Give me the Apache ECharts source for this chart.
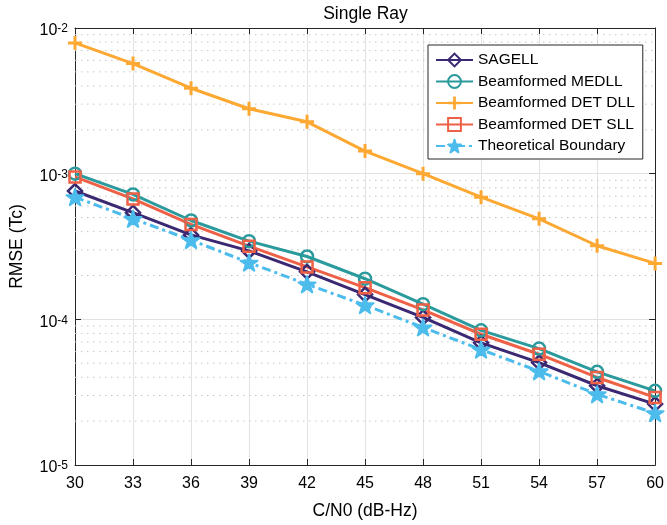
<!DOCTYPE html>
<html>
<head>
<meta charset="utf-8">
<script src="https://cdn.jsdelivr.net/npm/echarts@6/dist/echarts.min.js"></script>
<style>
  html, body { margin: 0; padding: 0; background: #fff; }
  #chart { width: 667px; height: 525px; }
</style>
</head>
<body>
<div id="chart"></div>
<script>
// C/N0 在 x 轴上的取值
const cn0 = [30, 33, 36, 39, 42, 45, 48, 51, 54, 57, 60];

// 各方法的 RMSE (Tc)
const sagell = [7.6e-4, 5.4e-4, 3.8e-4, 2.95e-4, 2.12e-4, 1.48e-4, 1.03e-4, 6.9e-5, 5.05e-5, 3.5e-5, 2.62e-5];
const medll = [1.0e-3, 7.2e-4, 4.77e-4, 3.44e-4, 2.7e-4, 1.9e-4, 1.27e-4, 8.4e-5, 6.3e-5, 4.36e-5, 3.23e-5];
const detDll = [7.9e-3, 5.7e-3, 3.86e-3, 2.79e-3, 2.27e-3, 1.43e-3, 1.0e-3, 6.9e-4, 4.9e-4, 3.2e-4, 2.42e-4];
const detSll = [9.5e-4, 6.71e-4, 4.48e-4, 3.18e-4, 2.29e-4, 1.65e-4, 1.16e-4, 7.9e-5, 5.76e-5, 3.99e-5, 2.91e-5];
const theory = [6.9e-4, 4.9e-4, 3.5e-4, 2.45e-4, 1.74e-4, 1.25e-4, 8.8e-5, 6.2e-5, 4.4e-5, 3.06e-5, 2.27e-5];

const seriesNames = ["SAGELL", "Beamformed MEDLL", "Beamformed DET DLL", "Beamformed DET SLL", "Theoretical Boundary"];

// 对数轴的次刻度（2..9 × 10^n）
const minorTicks = [
  2e-5, 3e-5, 4e-5, 5e-5, 6e-5, 7e-5, 8e-5, 9e-5,
  2e-4, 3e-4, 4e-4, 5e-4, 6e-4, 7e-4, 8e-4, 9e-4,
  2e-3, 3e-3, 4e-3, 5e-3, 6e-3, 7e-3, 8e-3, 9e-3
];

const FONT = "Liberation Sans";
const AXIS_COLOR = "#262626";

const starPath = "path://M50,0 L61.23,34.55 L97.55,34.55 L68.16,55.9 L79.39,90.45 L50,69.1 L20.61,90.45 L31.84,55.9 L2.45,34.55 L38.77,34.55 Z";
const plusPath = "path://M5.5,0H8.5V5.5H14V8.5H8.5V14H5.5V8.5H0V5.5H5.5Z";

function toPoints(values) {
  return cn0.map((c, i) => [c, values[i]]);
}

// mode: "hollow" 空心描边, "solid" 实心, "edge" 实心加同色描边
function lineSeries(name, values, color, symbol, size, mode, dash) {
  let itemStyle = { color, borderWidth: 0 };
  if (mode === "hollow") itemStyle = { color: "rgba(0,0,0,0)", borderColor: color, borderWidth: 2.5 };
  if (mode === "edge") itemStyle = { color, borderColor: color, borderWidth: 2, borderJoin: "round" };
  return {
    name,
    type: "line",
    z: 3,
    data: toPoints(values),
    symbol,
    symbolSize: size,
    symbolKeepAspect: true,
    showAllSymbol: true,
    lineStyle: { color, width: 3, type: dash || "solid" },
    itemStyle,
    emphasis: { disabled: true },
  };
}

const series = [
  lineSeries(seriesNames[0], sagell, "#3b2873", "diamond", 14, "hollow"),
  lineSeries(seriesNames[1], medll, "#2a9a9c", "circle", 12, "hollow"),
  lineSeries(seriesNames[2], detDll, "#fca832", plusPath, 14, "solid"),
  lineSeries(seriesNames[3], detSll, "#ef6146", "rect", 11, "hollow"),
  lineSeries(seriesNames[4], theory, "#4cbcec", starPath, 17, "edge", [9, 4, 3, 4]),
];

// 次网格线（点线），每条是横跨整个 x 范围的细线
minorTicks.forEach((v) => {
  series.push({
    type: "line",
    z: 1,
    silent: true,
    symbol: "none",
    data: [[cn0[0], v], [cn0[cn0.length - 1], v]],
    lineStyle: { color: "#c6c6c6", width: 1, type: [1.5, 4.5] },
    emphasis: { disabled: true },
    tooltip: { show: false },
  });
});

const expLabel = (v) => {
  const e = Math.round(Math.log10(v));
  return "{b|10}{s|" + e + "}";
};

const yBase = {
  type: "log",
  logBase: 10,
  min: 1e-5,
  max: 1e-2,
  gridIndex: 0,
};

const option = {
  animation: false,
  backgroundColor: "#fff",
  textStyle: { fontFamily: FONT, color: "#000" },
  title: {
    text: "Single Ray",
    left: 365.5,
    textAlign: "center",
    top: 5,
    padding: 0,
    textStyle: { fontFamily: FONT, fontSize: 17.5, fontWeight: "normal", color: "#000" },
  },
  grid: { left: 74, right: 10, top: 28, bottom: 59, containLabel: false },
  legend: {
    data: seriesNames,
    orient: "vertical",
    left: 428,
    top: 45,
    padding: [7, 8, 5, 7],
    itemWidth: 37,
    itemHeight: 16,
    itemGap: 5.5,
    backgroundColor: "#fff",
    borderColor: AXIS_COLOR,
    borderWidth: 1,
    borderRadius: 0,
    textStyle: { fontFamily: FONT, fontSize: 15.5, color: "#000" },
    selectedMode: false,
  },
  xAxis: [
    {
      type: "value",
      min: 30,
      max: 60,
      interval: 3,
      name: "C/N0 (dB-Hz)",
      nameLocation: "middle",
      nameGap: 37,
      nameTextStyle: { fontFamily: FONT, fontSize: 17.5, color: "#000" },
      axisLine: { show: true, onZero: false, lineStyle: { color: AXIS_COLOR, width: 1 } },
      axisTick: { inside: true, length: 6, lineStyle: { color: AXIS_COLOR } },
      axisLabel: { fontFamily: FONT, fontSize: 16, color: "#000", margin: 11 },
      splitLine: { show: true, lineStyle: { color: "#e2e2e2", width: 1 } },
    },
    {
      type: "value",
      position: "top",
      min: 30,
      max: 60,
      interval: 3,
      axisLine: { show: true, onZero: false, lineStyle: { color: AXIS_COLOR, width: 1 } },
      axisTick: { inside: true, length: 6, lineStyle: { color: AXIS_COLOR } },
      axisLabel: { show: false },
      splitLine: { show: false },
    },
  ],
  yAxis: [
    Object.assign({}, yBase, {
      position: "left",
      name: "RMSE (Tc)",
      nameLocation: "middle",
      nameGap: 49,
      nameTextStyle: { fontFamily: FONT, fontSize: 17.5, color: "#000" },
      axisLine: { show: true, onZero: false, lineStyle: { color: AXIS_COLOR, width: 1 } },
      axisTick: { inside: true, length: 6, lineStyle: { color: AXIS_COLOR } },
      axisLabel: {
        formatter: expLabel,
        margin: 7,
        padding: [6, 0, 0, 0],
        rich: {
          b: { fontFamily: FONT, fontSize: 16, color: "#000", lineHeight: 16, padding: [5, 0, 0, 0], verticalAlign: "bottom" },
          s: { fontFamily: FONT, fontSize: 12, color: "#000", lineHeight: 12, verticalAlign: "top" },
        },
      },
      splitLine: { show: true, lineStyle: { color: "#e2e2e2", width: 1 } },
    }),
    Object.assign({}, yBase, {
      position: "right",
      axisLine: { show: true, onZero: false, lineStyle: { color: AXIS_COLOR, width: 1 } },
      axisTick: { inside: true, length: 6, lineStyle: { color: AXIS_COLOR } },
      axisLabel: { show: false },
      splitLine: { show: false },
    }),
    Object.assign({}, yBase, {
      position: "left",
      axisLine: { show: false },
      axisTick: { inside: true, length: 3, customValues: minorTicks.map(Math.log10), lineStyle: { color: AXIS_COLOR } },
      axisLabel: { show: false },
      splitLine: { show: false },
    }),
    Object.assign({}, yBase, {
      position: "right",
      axisLine: { show: false },
      axisTick: { inside: true, length: 3, customValues: minorTicks.map(Math.log10), lineStyle: { color: AXIS_COLOR } },
      axisLabel: { show: false },
      splitLine: { show: false },
    }),
  ],
  series,
};

const chart = echarts.init(document.getElementById("chart"), null, { renderer: "canvas" });
chart.setOption(option);
</script>
</body>
</html>
